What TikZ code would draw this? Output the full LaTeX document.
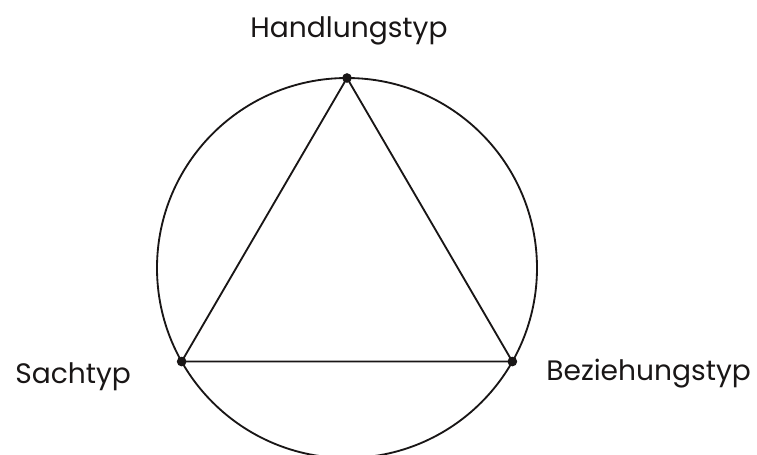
\documentclass[tikz,border=0pt]{standalone}
\usepackage{fontspec}
\setmainfont{Poppins}
\usetikzlibrary{calc,positioning}
\definecolor{lineBlack}{RGB}{25,22,22}

\begin{document}
\begin{tikzpicture}[
  dot/.style={circle, fill=lineBlack, inner sep=0pt, minimum size=5.5pt},
  typlabel/.style={text=lineBlack, font=\fontsize{16}{19}\selectfont, inner sep=0pt}
]
\useasboundingbox (0,0) rectangle (15.14,-9.08);
\coordinate (center) at (6.94,-5.36);
\draw[lineBlack, line width=1.05pt] (center) circle (3.8);
\node[dot] (hand) at ($(center)+(90:3.8)$) {};
\node[dot] (sach) at ($(center)+(209.5:3.8)$) {};
\node[dot] (bez) at ($(center)+(-29.5:3.8)$) {};
\draw[lineBlack, line width=1.05pt] (hand.center) -- (sach.center) -- (bez.center) -- cycle;
\node[typlabel, anchor=base] (handlabel) at (6.98,-0.74) {Handlungstyp};
\node[typlabel, anchor=base west] (sachlabel) at (0.30,-7.66) {Sachtyp};
\node[typlabel, anchor=base west] (bezlabel) at (10.92,-7.60) {Beziehungstyp};
\end{tikzpicture}
\end{document}
